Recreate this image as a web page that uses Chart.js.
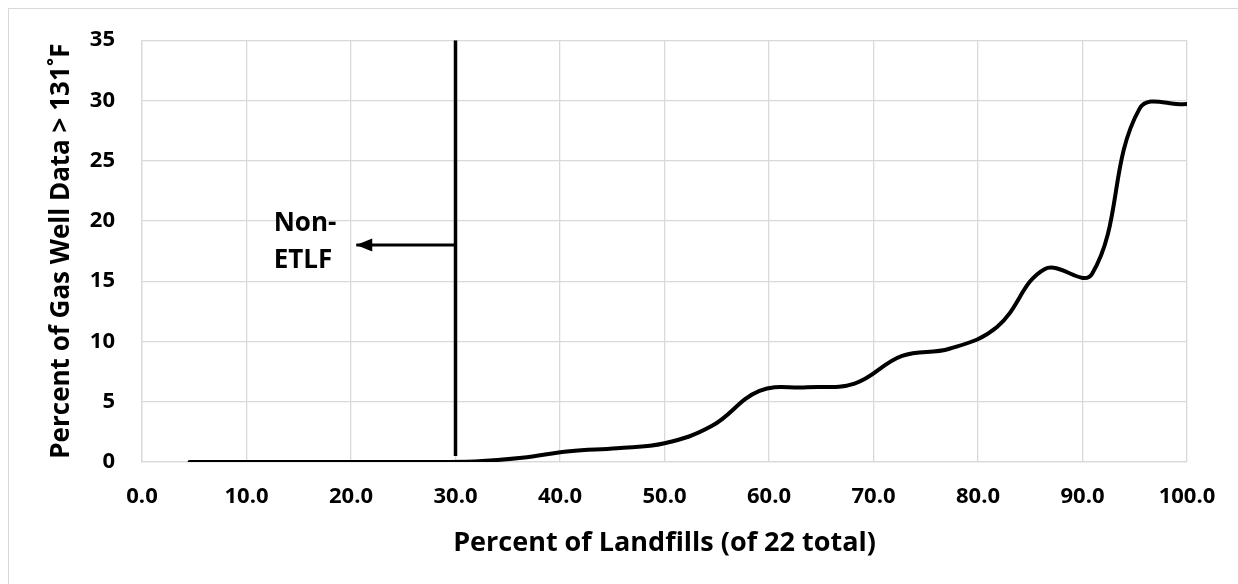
<!DOCTYPE html>
<html>
<head>
<meta charset="utf-8">
<script src="https://cdn.jsdelivr.net/npm/chart.js@4.4.1/dist/chart.umd.min.js"></script>
<style>
  html, body { margin: 0; padding: 0; background: #ffffff; }
  #wrap { position: relative; width: 1238px; height: 584px; }
  canvas { display: block; }
</style>
</head>
<body>
<div id="wrap"><canvas id="c" width="1238" height="584"></canvas></div>
<script>
// Cumulative share of landfills (22 sites) vs share of gas-well readings above 131 °F
const landfillPct = [4.55, 9.09, 13.64, 18.18, 22.73, 27.27, 31.82, 36.36, 40.91, 45.45, 50.0,
                     54.55, 59.09, 63.64, 68.18, 72.73, 77.27, 81.82, 86.36, 90.91, 95.45, 100.0];
const gasWellPct  = [0, 0, 0, 0, 0, 0, 0.05, 0.35, 0.9, 1.15, 1.55,
                     3.0, 5.9, 6.2, 6.5, 8.8, 9.4, 11.2, 16.0, 15.6, 29.3, 29.7];

// Cut-off line separating non-ETLF sites, with its pointer arrow and note
const cutoffX = [30, 30];
const cutoffY = [0.5, 35];
const arrowX = [30, 20.5];
const arrowY = [18, 18];
const noteLines = ['Non-', 'ETLF'];
const noteX = 12.6;
const noteY = [19.8, 16.7];

// Axis ranges and steps
const xMin = 0, xMax = 100, xStep = 10;
const yMin = 0, yMax = 35, yStep = 5;
const xTitle = 'Percent of Landfills (of 22 total)';
const yTitle = 'Percent of Gas Well Data > 131\u02DAF';

const FONT = "'Open Sans', 'Noto Sans', sans-serif";
const GRID = '#d9d9d9';

const toPoints = (xs, ys) => xs.map((x, i) => ({ x: x, y: ys[i] }));

const framePlugin = {
  id: 'frame',
  beforeDraw(chart) {
    const ctx = chart.ctx;
    ctx.save();
    ctx.fillStyle = '#ffffff';
    ctx.fillRect(0, 0, chart.width, chart.height);
    ctx.strokeStyle = GRID;
    ctx.lineWidth = 1;
    ctx.strokeRect(8.5, 8.5, chart.width + 20, chart.height + 20);
    ctx.restore();
  }
};

const notePlugin = {
  id: 'note',
  afterDatasetsDraw(chart) {
    const ctx = chart.ctx;
    const xs = chart.scales.x, ys = chart.scales.y;
    ctx.save();
    // arrowhead at the end of the pointer
    const tx = xs.getPixelForValue(arrowX[1]);
    const ty = ys.getPixelForValue(arrowY[1]);
    ctx.fillStyle = '#000000';
    ctx.beginPath();
    ctx.moveTo(tx, ty);
    ctx.lineTo(tx + 16, ty - 6.5);
    ctx.lineTo(tx + 16, ty + 6.5);
    ctx.closePath();
    ctx.fill();
    // note text
    ctx.font = 'bold 26px ' + FONT;
    ctx.textAlign = 'left';
    ctx.textBaseline = 'middle';
    noteLines.forEach((t, i) => {
      ctx.fillText(t, xs.getPixelForValue(noteX), ys.getPixelForValue(noteY[i]));
    });
    ctx.restore();
  }
};

new Chart(document.getElementById('c'), {
  type: 'scatter',
  data: {
    datasets: [
      {
        data: toPoints(landfillPct, gasWellPct),
        showLine: true,
        borderColor: '#000000',
        borderWidth: 4,
        tension: 0.4,
        pointRadius: 0,
        borderCapStyle: 'round',
        fill: false
      },
      {
        data: toPoints(cutoffX, cutoffY),
        showLine: true,
        borderColor: '#000000',
        borderWidth: 3.5,
        pointRadius: 0,
        fill: false
      },
      {
        data: toPoints(arrowX, arrowY),
        showLine: true,
        borderColor: '#000000',
        borderWidth: 3,
        pointRadius: 0,
        fill: false
      }
    ]
  },
  options: {
    responsive: false,
    animation: false,
    devicePixelRatio: 1,
    layout: { padding: { top: 38, right: 51, bottom: 0, left: 0 } },
    plugins: { legend: { display: false }, tooltip: { enabled: false } },
    scales: {
      x: {
        type: 'linear',
        min: xMin, max: xMax,
        afterFit(scale) { scale.height = 122; },
        grid: { color: GRID, lineWidth: 1.3, drawTicks: false },
        border: { color: GRID, width: 1.3 },
        ticks: {
          stepSize: xStep,
          padding: 22,
          color: '#000000',
          font: { family: FONT, size: 22, weight: 'bold' },
          callback: v => v.toFixed(1)
        },
        title: {
          display: true,
          text: xTitle,
          color: '#000000',
          font: { family: FONT, size: 27, weight: 'bold' },
          padding: { top: 0, bottom: 24 }
        }
      },
      y: {
        type: 'linear',
        min: yMin, max: yMax,
        afterFit(scale) { scale.width = 142; },
        grid: { color: GRID, lineWidth: 1.3, drawTicks: false },
        border: { color: GRID, width: 1.3 },
        ticks: {
          stepSize: yStep,
          padding: 27,
          color: '#000000',
          font: { family: FONT, size: 22, weight: 'bold' }
        },
        title: {
          display: true,
          text: yTitle,
          color: '#000000',
          font: { family: FONT, size: 26, weight: 'bold' },
          padding: { top: 46, bottom: 0 }
        }
      }
    }
  },
  plugins: [framePlugin, notePlugin]
});
</script>
</body>
</html>
